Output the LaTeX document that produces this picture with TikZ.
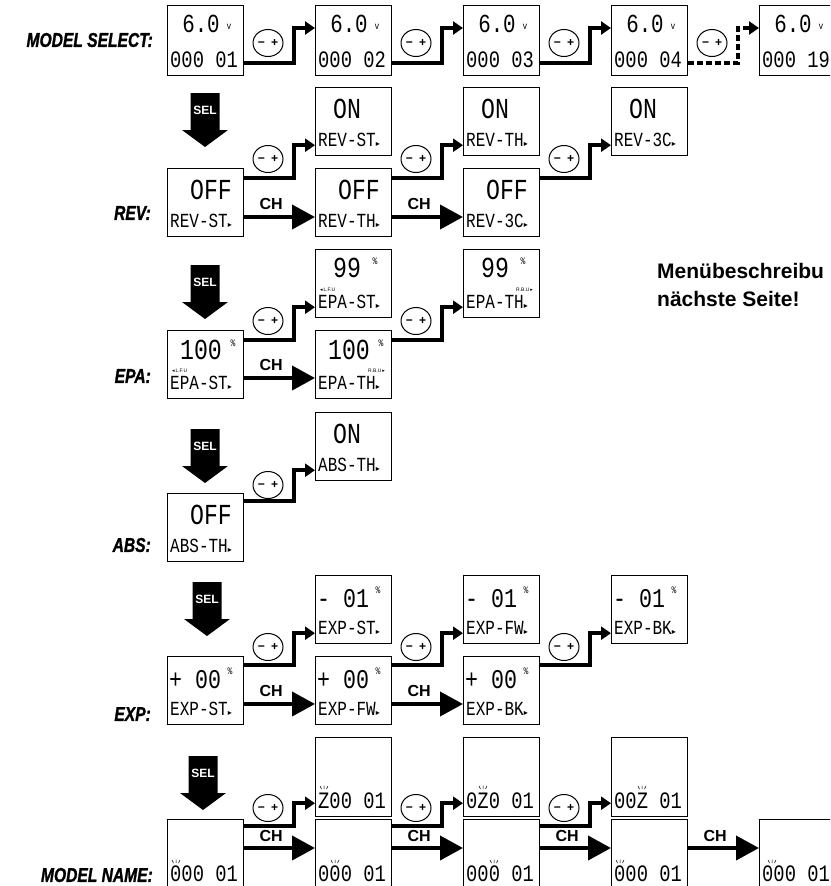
\documentclass[tikz,border=0pt]{standalone}
\usepackage{fontspec}
\setmainfont{Liberation Sans}
\newfontfamily\lcdfont[FakeStretch=0.8]{Liberation Mono}
\newfontfamily\rowfont[FakeStretch=0.78, FakeBold=1.2]{Liberation Sans}
\newfontfamily\symfont{DejaVu Sans}
\usetikzlibrary{arrows.meta,shapes.geometric}

\newcommand\trimark{{\symfont\fontsize{8}{8}\selectfont ▸}}
\newcommand\numsize{\fontsize{23.5}{23.5}\selectfont}
% display frame with its lower line
\newcommand\lcdbox[5][68]{%
  \node[lcd, minimum height=#1pt] (#2) at (#3,#4) {};
  \node[low] (#2t) at ([shift={(3,#1-15)}]#2.north west) {#5};}
\newcommand\selarrow[3]{%
  \fill (#2-14.5,#3) -- ++(29,0) -- ++(0,37) -- ++(8.5,0) -- (#2,#3+54) -- (#2-23,#3+37) -- ++(8.5,0) -- cycle;
  \node[seltext] (#1) at (#2,#3+17) {SEL};}
\newcommand\blink[2]{%
  \draw[line width=0.5pt] (#1-4,#2-3) -- ++(1.5,3) (#1,#2-3.5) -- ++(0,3.5) (#1+4,#2-3) -- ++(-1.5,3);}

\begin{document}
\begin{tikzpicture}[x=1pt, y=-1pt,
  lcd/.style={draw, line width=1.2pt, inner sep=0pt, anchor=north west, minimum width=76pt},
  big/.style={font=\lcdfont\fontsize{29}{29}\selectfont, inner sep=0pt},
  low/.style={font=\lcdfont\fontsize{20}{20}\selectfont, inner sep=0pt, anchor=west},
  unit/.style={font=\lcdfont\fontsize{10}{10}\selectfont, inner sep=0pt},
  side/.style={font=\fontsize{5}{5}\selectfont, inner sep=0pt},
  pm/.style={draw, ellipse, line width=1pt, minimum width=30pt, minimum height=27pt, inner sep=0pt, font=\bfseries\fontsize{12}{12}\selectfont},
  jump/.style={line width=4pt, -{Triangle[length=10pt, width=13pt]}},
  ch/.style={line width=4pt, -{Triangle[length=23pt, width=24pt]}},
  chtext/.style={font=\bfseries\fontsize{16}{16}\selectfont, inner sep=0pt},
  seltext/.style={font=\bfseries\fontsize{12}{12}\selectfont, text=white, inner sep=0pt},
  row/.style={font=\rowfont\bfseries\itshape\fontsize{20}{20}\selectfont, anchor=east, inner sep=0pt}]
  \useasboundingbox (0,0) rectangle (830,886);
  \fill[white] (0,0) rectangle (830,886);
  \clip (0,0) rectangle (830,886);

  % model select
  \node[row] (mslbl) at (153,40) {MODEL SELECT:};
  \foreach \m [count=\i from 0] in {01,02,03,04,19} {
    \lcdbox[70]{ms\i}{167+148*\i}{5}{\numsize 000 \m}
    \node[big, font=\lcdfont\fontsize{26}{26}\selectfont] (msv\i) at ([shift={(34,19)}]ms\i.north west) {6.0};
    \node[unit] (msu\i) at ([shift={(62,22)}]ms\i.north west) {v};
  }
  \foreach \i/\j in {0/1,1/2,2/3} {
    \node[pm] (mspm\i) at (268+148*\i,43) {−\enspace+};
    \draw[jump] ([yshift=13pt]ms\i.south east) -- ++(50,0) |- ([yshift=-23pt]ms\j.north west);
  }
  \node[pm] (mspm3) at (712,43) {−\enspace+};
  \draw[jump, dash pattern=on 6pt off 3pt] ([yshift=13pt]ms3.south east) -- ++(50,0) |- ([yshift=-23pt]ms4.north west);

  % rev
  \selarrow{sel1}{205}{93}
  \node[row] (revlbl) at (151,213) {REV:};
  \foreach \c/\t in {0/ST,1/TH,2/3C} {
    \lcdbox{rev\c}{167+148*\c}{168}{REV-\t\trimark}
    \node[big] (revv\c) at ([shift={(44,22)}]rev\c.north west) {OFF};
  }
  \foreach \c/\t in {1/ST,2/TH,3/3C} {
    \lcdbox{revup\c}{167+148*\c}{87}{REV-\t\trimark}
    \node[big] (revupv\c) at ([shift={(32,22)}]revup\c.north west) {ON};
  }
  \foreach \i/\j in {0/1,1/2,2/3} {
    \node[pm] (revpm\i) at (268+148*\i,159) {−\enspace+};
    \draw[jump] ([yshift=-10pt]rev\i.north east) -- ++(50,0) |- ([yshift=11pt]revup\j.south west);
  }
  \foreach \i/\j in {0/1,1/2}
    \draw[ch] ([yshift=-49pt]rev\i.north east) -- ([yshift=-49pt]rev\j.north west) node[chtext, pos=0.38, above=5pt] (revch\i) {CH};

  % epa
  \selarrow{sel2}{205}{265}
  \node[row] (epalbl) at (151,376) {EPA:};
  \foreach \c/\t in {0/ST,1/TH} {
    \lcdbox{epa\c}{167+148*\c}{330}{EPA-\t\trimark}
    \node[big] (epav\c) at ([shift={(34,20)}]epa\c.north west) {100};
    \node[unit] (epau\c) at ([shift={(66,13)}]epa\c.north west) {\%};
  }
  \foreach \c/\t in {1/ST,2/TH} {
    \lcdbox{epaup\c}{167+148*\c}{249}{EPA-\t\trimark}
    \node[big] (epaupv\c) at ([shift={(32,19)}]epaup\c.north west) {99};
    \node[unit] (epaupu\c) at ([shift={(60,12)}]epaup\c.north west) {\%};
  }
  \node[side, anchor=west] (epas0) at ([shift={(5,41)}]epa0.north west) {{\symfont ◂}\,L.F.U};
  \node[side, anchor=west] (epas1) at ([shift={(5,41)}]epaup1.north west) {{\symfont ◂}\,L.F.U};
  \node[side, anchor=east] (epas2) at ([shift={(70,41)}]epa1.north west) {R.B.U\,{\symfont ▸}};
  \node[side, anchor=east] (epas3) at ([shift={(70,41)}]epaup2.north west) {R.B.U\,{\symfont ▸}};
  \foreach \i/\j in {0/1,1/2} {
    \node[pm] (epapm\i) at (268+148*\i,321) {−\enspace+};
    \draw[jump] ([yshift=-10pt]epa\i.north east) -- ++(50,0) |- ([yshift=11pt]epaup\j.south west);
  }
  \draw[ch] ([yshift=-48pt]epa0.north east) -- ([yshift=-48pt]epa1.north west) node[chtext, pos=0.38, above=5pt] (epach0) {CH};

  % abs
  \selarrow{sel3}{205}{429}
  \node[row] (abslbl) at (151,545) {ABS:};
  \lcdbox{abs0}{167}{493}{ABS-TH\trimark}
  \node[big] (absv0) at ([shift={(44,22)}]abs0.north west) {OFF};
  \lcdbox{absup1}{315}{412}{ABS-TH\trimark}
  \node[big] (absupv1) at ([shift={(32,22)}]absup1.north west) {ON};
  \node[pm] (abspm0) at (268,485) {−\enspace+};
  \draw[jump] ([yshift=-8pt]abs0.north east) -- ++(50,0) |- ([yshift=11pt]absup1.south west);

  % exp
  \selarrow{sel4}{207}{582}
  \node[row] (explbl) at (151,714) {EXP:};
  \foreach \c/\t in {0/ST,1/FW,2/BK} {
    \lcdbox{exp\c}{167+148*\c}{656}{EXP-\t\trimark}
    \node[big, anchor=west, font=\lcdfont\fontsize{27}{27}\selectfont] (expv\c) at ([shift={(2,24)}]exp\c.north west) {+ 00};
    \node[unit] (expu\c) at ([shift={(63,15)}]exp\c.north west) {\%};
  }
  \foreach \c/\t in {1/ST,2/FW,3/BK} {
    \lcdbox{expup\c}{167+148*\c}{575}{EXP-\t\trimark}
    \node[big, anchor=west, font=\lcdfont\fontsize{27}{27}\selectfont] (expupv\c) at ([shift={(2,24)}]expup\c.north west) {- 01};
    \node[unit] (expupu\c) at ([shift={(63,15)}]expup\c.north west) {\%};
  }
  \foreach \i/\j in {0/1,1/2,2/3} {
    \node[pm] (exppm\i) at (268+148*\i,647) {−\enspace+};
    \draw[jump] ([yshift=-9pt]exp\i.north east) -- ++(50,0) |- ([yshift=11pt]expup\j.south west);
  }
  \foreach \i/\j in {0/1,1/2}
    \draw[ch] ([yshift=-48pt]exp\i.north east) -- ([yshift=-48pt]exp\j.north west) node[chtext, pos=0.38, above=5pt] (expch\i) {CH};

  % model name
  \selarrow{sel5}{203}{756}
  \node[row] (mnlbl) at (153,875) {MODEL NAME:};
  \foreach \c/\d in {0/9,1/20,2/31,3/9,4/13} {
    \lcdbox[70]{mn\c}{167+148*\c}{819}{\numsize 000 01}
    \blink{167+148*\c+\d}{863}
  }
  \foreach \c/\n/\d in {1/Z00/9,2/0Z0/20,3/00Z/31} {
    \lcdbox[79]{mnup\c}{167+148*\c}{737}{\numsize \n\ 01}
    \blink{167+148*\c+\d}{789}
  }
  \foreach \i/\j in {0/1,1/2,2/3} {
    \node[pm] (mnpm\i) at (268+148*\i,808) {−\enspace+};
    \draw[jump] ([yshift=-7pt]mn\i.north east) -- ++(50,0) |- ([yshift=14pt]mnup\j.south west);
  }
  \foreach \i/\j in {0/1,1/2,2/3,3/4}
    \draw[ch] ([yshift=-29pt]mn\i.north east) -- ([yshift=-29pt]mn\j.north west) node[chtext, pos=0.38, above=4pt] (mnch\i) {CH};

  % note
  \node[anchor=base west, inner sep=0pt, font=\bfseries\fontsize{21}{21}\selectfont] (note1) at (657,278) {Menübeschreibu};
  \node[anchor=base west, inner sep=0pt, font=\bfseries\fontsize{21}{21}\selectfont] (note2) at (657,306) {nächste Seite!};
\end{tikzpicture}
\end{document}
